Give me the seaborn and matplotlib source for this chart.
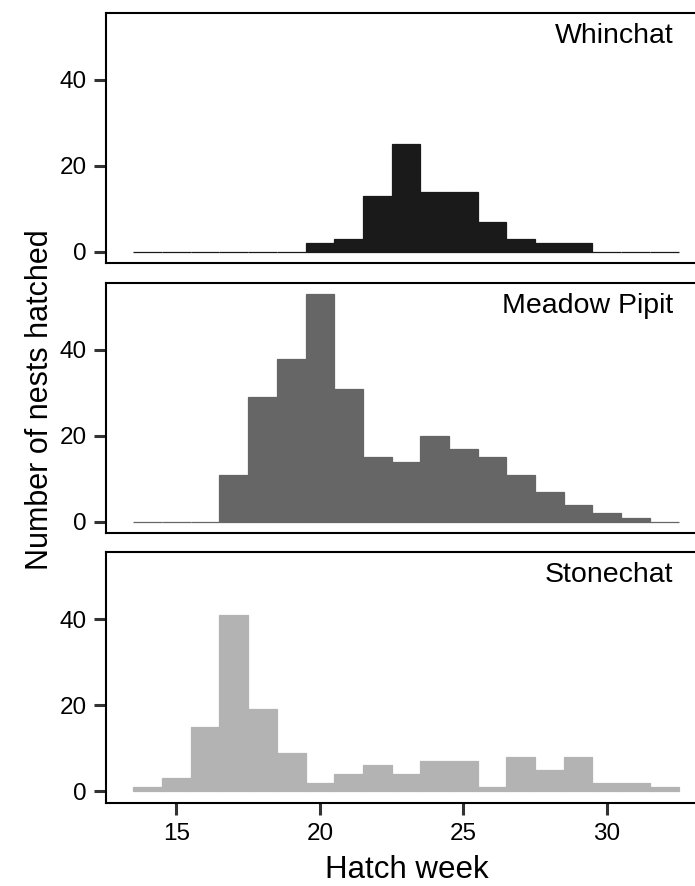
import numpy as np
import pandas as pd
import matplotlib
matplotlib.use("Agg")
import matplotlib.pyplot as plt
import seaborn as sns

weeks = list(range(14, 33))
whinchat = [0, 0, 0, 0, 0, 0, 2, 3, 13, 25, 14, 14, 7, 3, 2, 2, 0, 0, 0]
meadow_pipit = [0, 0, 0, 11, 29, 38, 53, 31, 15, 14, 20, 17, 15, 11, 7, 4, 2, 1, 0]
stonechat = [1, 3, 15, 41, 19, 9, 2, 4, 6, 4, 7, 7, 1, 8, 5, 8, 2, 2, 1]

species = ["Whinchat", "Meadow Pipit", "Stonechat"]
series = [whinchat, meadow_pipit, stonechat]
colors = ["#1a1a1a", "#666666", "#b3b3b3"]
x_ticks = [15, 20, 25, 30]
y_ticks = [0, 20, 40]

sns.set_style("white")
plt.rcParams["font.family"] = ["Liberation Sans", "DejaVu Sans"]

W, H = 695, 886
fig = plt.figure(figsize=(W / 100, H / 100), dpi=100)

left_px, width_px = 106.1, 599.7
panels_px = [(12.7, 263.3), (282.7, 533.3), (551.7, 802.7)]

for i, (name, vals, col) in enumerate(zip(species, series, colors)):
    top, bot = panels_px[i]
    ax = fig.add_axes([left_px / W, 1 - bot / H, width_px / W, (bot - top) / H])
    df = pd.DataFrame({"week": weeks, "n": vals})
    sns.histplot(data=df, x="week", weights="n", binwidth=1, binrange=(13.5, 32.5),
                 color=col, edgecolor=col, linewidth=0.9, alpha=1, ax=ax)
    ax.set_xlim(12.55, 33.45)
    ax.set_ylim(-2.65, 55.65)
    ax.set_yticks(y_ticks)
    ax.set_ylabel("")
    ax.set_xlabel("")
    for s in ax.spines.values():
        s.set_visible(True)
        s.set_color("black")
        s.set_linewidth(1.5)
    ax.tick_params(axis="y", length=8.5, width=2.2, color="#333333", pad=5.5,
                   labelsize=17.5, labelcolor="black", left=True)
    if i == 2:
        ax.set_xticks(x_ticks)
        ax.tick_params(axis="x", length=8.5, width=2.2, color="#333333", pad=6,
                       labelsize=17.5, labelcolor="black", bottom=True)
    else:
        ax.set_xticks([])
    ax.text(0.946, 1 - 30.5 / (bot - top), name, transform=ax.transAxes,
            ha="right", va="baseline", fontsize=20.5, color="black")

fig.text(40 / W, 1 - 400 / H, "Number of nests hatched", rotation=90,
         ha="center", va="center", fontsize=22, color="black")
fig.text(407 / W, 1 - 878.5 / H, "Hatch week", ha="center", va="baseline",
         fontsize=22.5, color="black")

fig.savefig("out.png", dpi=100)
